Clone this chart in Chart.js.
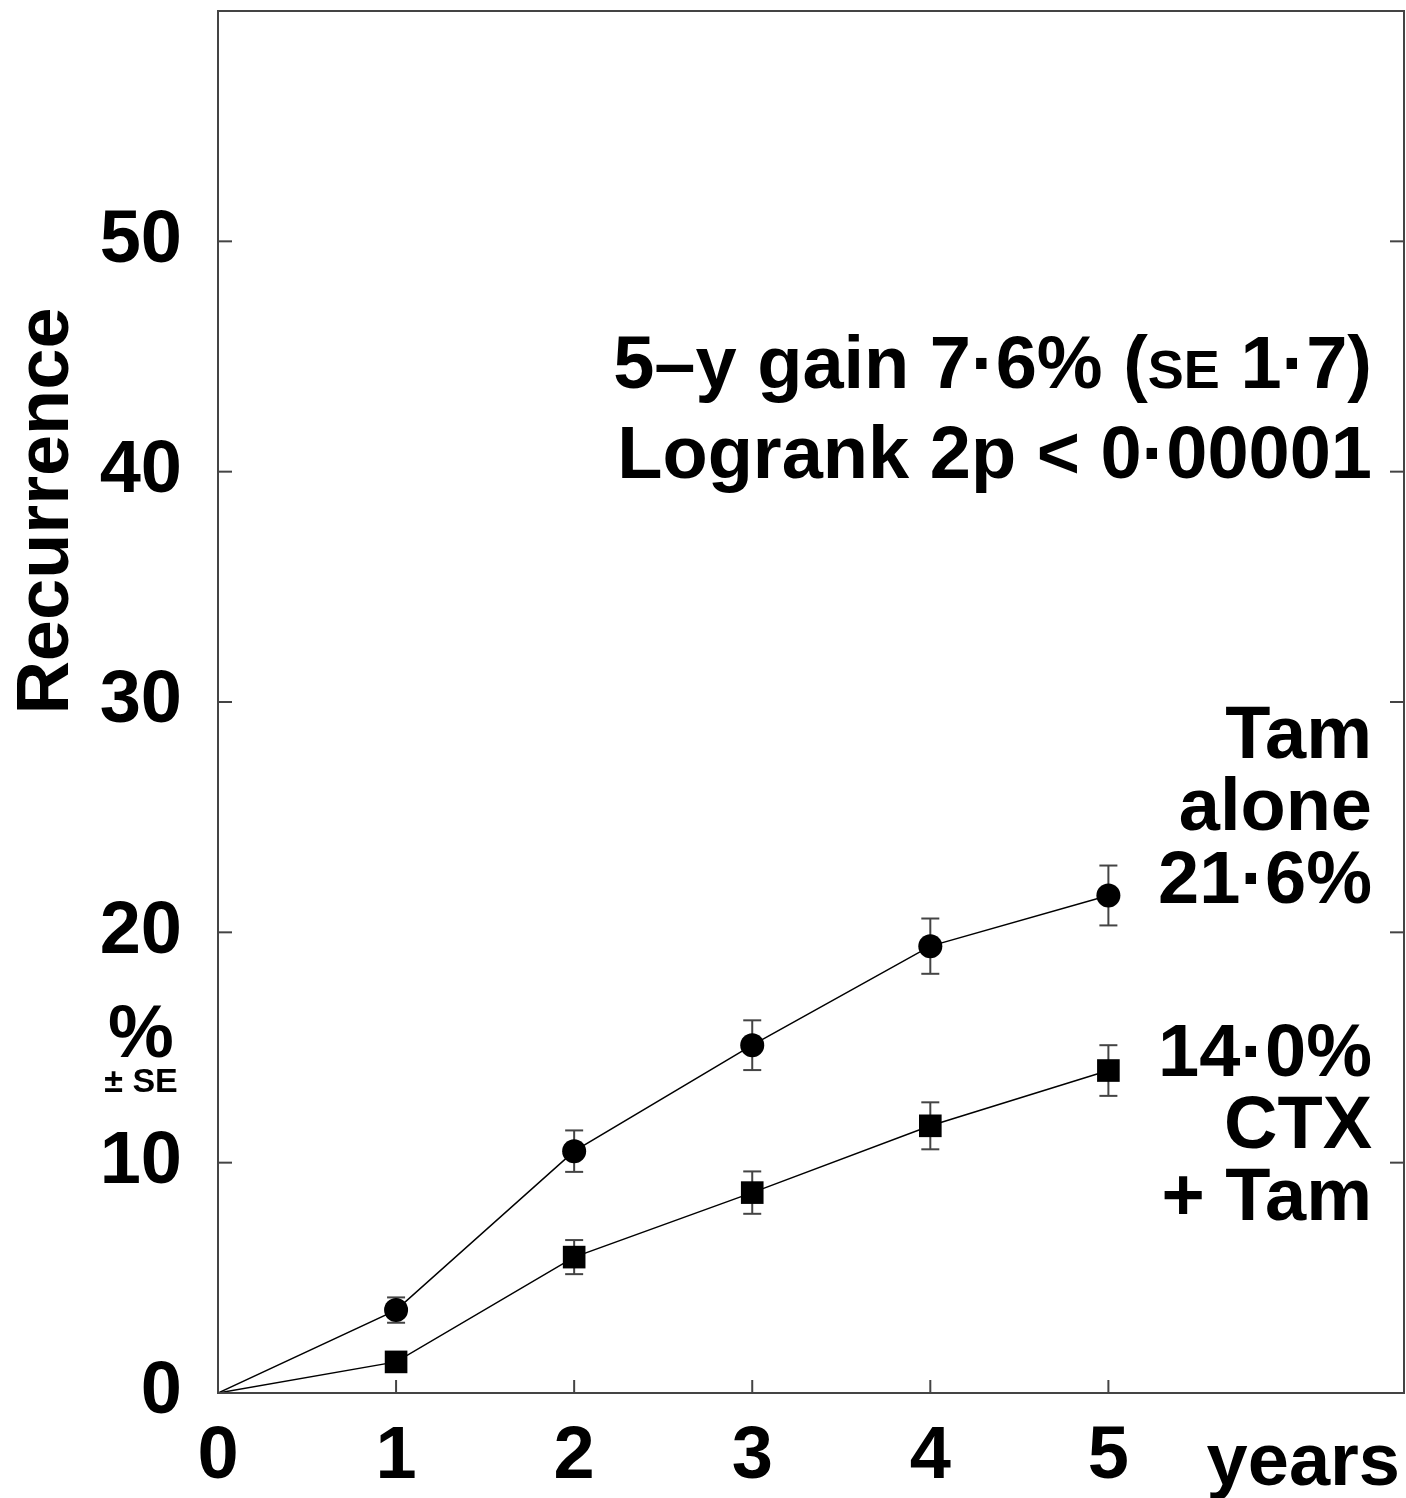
<!DOCTYPE html>
<html lang="en">
<head>
    <meta charset="UTF-8">
    <title>Recurrence</title>
    <script src="https://cdn.jsdelivr.net/npm/chart.js"></script>
    <style>
        body { margin: 0; background: #fff; }
        #wrap { width: 1406px; height: 1498px; }
    </style>
</head>
<body>
    <div id="wrap"><canvas id="chart" width="1406" height="1498"></canvas></div>
    <script>
        // values
        const years = [0, 1, 2, 3, 4, 5];
        const tamAlone = [0, 3.6, 10.5, 15.1, 19.4, 21.6];
        const tamAloneSE = [0, 0.55, 0.9, 1.08, 1.2, 1.3];
        const ctxTam = [0, 1.35, 5.9, 8.7, 11.6, 14.0];
        const ctxTamSE = [0, 0.35, 0.74, 0.92, 1.02, 1.1];
        const yTicks = [0, 10, 20, 30, 40, 50];

        const FONT = '"Liberation Sans", Arial, sans-serif';
        const big = 'bold 74px ' + FONT;

        function toPoints(vals) {
            return vals.map((v, i) => ({ x: years[i], y: v }));
        }

        function line(ctx, x1, y1, x2, y2) {
            ctx.beginPath();
            ctx.moveTo(x1, y1);
            ctx.lineTo(x2, y2);
            ctx.stroke();
        }

        function rightText(ctx, parts, xr, yb) {
            // parts: [text, font]; drawn right aligned ending at xr
            let total = 0;
            parts.forEach(p => { ctx.font = p[1]; total += ctx.measureText(p[0]).width; });
            let x = xr - total;
            ctx.textAlign = 'left';
            ctx.textBaseline = 'alphabetic';
            parts.forEach(p => {
                ctx.font = p[1];
                ctx.fillText(p[0], x, yb);
                x += ctx.measureText(p[0]).width;
            });
        }

        function noPad(s) {
            s.paddingTop = 0;
            s.paddingBottom = 0;
            s.paddingLeft = 0;
            s.paddingRight = 0;
        }

        const overlay = {
            id: 'overlay',
            beforeDatasetsDraw(chart) {
                const { ctx, scales: { x, y } } = chart;
                ctx.save();
                ctx.strokeStyle = '#444';
                ctx.lineWidth = 2;
                [[tamAlone, tamAloneSE], [ctxTam, ctxTamSE]].forEach(([vals, se]) => {
                    vals.forEach((v, i) => {
                        if (!se[i]) return;
                        const px = x.getPixelForValue(years[i]);
                        const y1 = y.getPixelForValue(v + se[i]);
                        const y2 = y.getPixelForValue(v - se[i]);
                        line(ctx, px, y1, px, y2);
                        line(ctx, px - 9, y1, px + 9, y1);
                        line(ctx, px - 9, y2, px + 9, y2);
                    });
                });
                ctx.restore();
            },
            afterDraw(chart) {
                const { ctx, chartArea: a, scales: { x, y } } = chart;
                ctx.save();
                // frame
                ctx.strokeStyle = '#444';
                ctx.lineWidth = 2;
                ctx.strokeRect(a.left, a.top, a.right - a.left, a.bottom - a.top);
                // inward ticks
                yTicks.forEach(v => {
                    const py = y.getPixelForValue(v);
                    line(ctx, a.left, py, a.left + 14, py);
                    line(ctx, a.right - 14, py, a.right, py);
                });
                years.forEach(v => {
                    const px = x.getPixelForValue(v);
                    line(ctx, px, a.bottom, px, a.bottom - 13);
                });

                ctx.fillStyle = '#000';
                // axis title
                ctx.save();
                ctx.translate(68, 511);
                ctx.rotate(-Math.PI / 2);
                ctx.font = big;
                ctx.textAlign = 'center';
                ctx.textBaseline = 'alphabetic';
                ctx.fillText('Recurrence', 0, 0);
                ctx.restore();

                ctx.textAlign = 'center';
                ctx.font = big;
                ctx.fillText('%', 141, 1057);
                ctx.font = 'bold 34px ' + FONT;
                ctx.fillText('± SE', 141, 1092);

                ctx.font = big;
                ctx.textAlign = 'right';
                ctx.fillText('years', 1400, 1485);

                // annotations
                rightText(ctx, [['5–y gain 7·6% (', big], ['SE', 'bold 54px ' + FONT], [' 1·7)', big]], 1372, 388);
                rightText(ctx, [['Logrank 2p < 0·00001', big]], 1372, 478);
                rightText(ctx, [['Tam', big]], 1372, 758);
                rightText(ctx, [['alone', big]], 1372, 830);
                rightText(ctx, [['21·6%', big]], 1372, 903);
                rightText(ctx, [['14·0%', big]], 1372, 1076);
                rightText(ctx, [['CTX', big]], 1372, 1148);
                rightText(ctx, [['+ Tam', big]], 1372, 1220);
                ctx.restore();
            }
        };

        new Chart(document.getElementById('chart'), {
            type: 'line',
            data: {
                datasets: [{
                    label: 'Tam alone',
                    data: toPoints(tamAlone),
                    borderColor: '#000',
                    backgroundColor: '#000',
                    borderWidth: 1.5,
                    pointStyle: 'circle',
                    pointRadius: years.map(v => v === 0 ? 0 : 12),
                    pointBorderWidth: 0
                }, {
                    label: 'CTX + Tam',
                    data: toPoints(ctxTam),
                    borderColor: '#000',
                    backgroundColor: '#000',
                    borderWidth: 1.5,
                    pointStyle: 'rect',
                    pointRadius: years.map(v => v === 0 ? 0 : 16),
                    pointBorderWidth: 0
                }]
            },
            options: {
                responsive: false,
                animation: false,
                layout: { autoPadding: false, padding: { top: 11, right: 2, left: 0, bottom: 0 } },
                plugins: { legend: { display: false }, tooltip: { enabled: false } },
                scales: {
                    x: {
                        type: 'linear',
                        min: 0,
                        max: 6.66,
                        afterBuildTicks: s => { s.ticks = years.map(v => ({ value: v })); },
                        afterFit: s => { s.height = 105; noPad(s); },
                        grid: { display: false, drawTicks: false },
                        border: { display: false },
                        ticks: {
                            color: '#000',
                            padding: 28,
                            maxRotation: 0,
                            autoSkip: false,
                            font: { family: FONT, size: 74, weight: 'bold', lineHeight: 1 }
                        }
                    },
                    y: {
                        min: 0,
                        max: 60,
                        afterBuildTicks: s => { s.ticks = yTicks.map(v => ({ value: v })); },
                        afterFit: s => { s.width = 218; noPad(s); },
                        grid: { display: false, drawTicks: false },
                        border: { display: false },
                        ticks: {
                            color: '#000',
                            padding: 36,
                            font: { family: FONT, size: 74, weight: 'bold', lineHeight: 1 }
                        }
                    }
                }
            },
            plugins: [overlay]
        });
    </script>
</body>
</html>
